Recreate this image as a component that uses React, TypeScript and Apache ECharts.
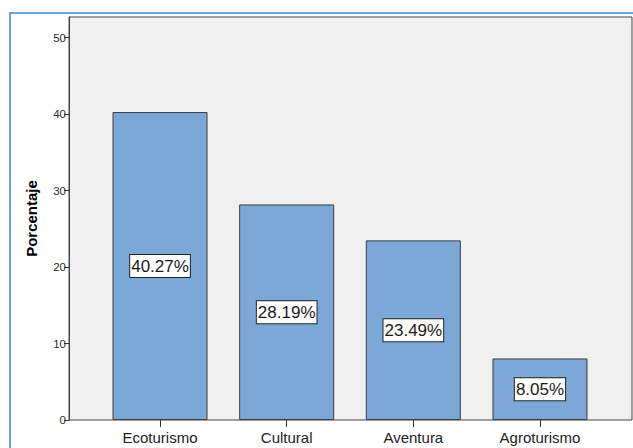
import React, { useEffect, useRef } from "react";
import * as echarts from "echarts";

const categories = ["Ecoturismo", "Cultural", "Aventura", "Agroturismo"];
const percentages = [40.27, 28.19, 23.49, 8.05];
const yTicks = [0, 10, 20, 30, 40, 50];
const yAxisTitle = "Porcentaje";

export default function App() {
  const ref = useRef<HTMLDivElement>(null);
  useEffect(() => {
    if (!ref.current) return;
    const chart = echarts.init(ref.current, null, { renderer: "svg" });
    const yMax = 52.7;
    chart.setOption({
      animation: false,
      backgroundColor: "#ffffff",
      graphic: [
        {
          type: "rect",
          shape: { x: 10, y: 13, width: 640, height: 460 },
          style: { fill: "none", stroke: "#6aa6df", lineWidth: 2 },
          silent: true,
          z: -1,
        },
      ],
      grid: [
        {
          left: 69,
          right: 1,
          top: 17,
          bottom: 28,
          show: true,
          backgroundColor: "#f0f0f0",
          borderColor: "#444444",
          borderWidth: 1,
        },
        {
          left: 96.7,
          right: 29.7,
          top: 17,
          bottom: 28,
        },
      ],
      xAxis: [
        { type: "value", gridIndex: 0, show: false, min: 0, max: 1 },
        {
          type: "category",
          gridIndex: 1,
          data: categories,
          axisLine: { show: false },
          axisTick: {
            show: true,
            alignWithLabel: true,
            length: 7,
            lineStyle: { color: "#333333", width: 1 },
          },
          axisLabel: {
            fontFamily: "Liberation Sans, Arial, sans-serif",
            fontSize: 15,
            color: "#222222",
            margin: 10,
          },
        },
      ],
      yAxis: [
        {
          type: "value",
          gridIndex: 0,
          min: 0,
          max: yMax,
          interval: 10,
          name: yAxisTitle,
          nameLocation: "middle",
          nameGap: 30,
          nameTextStyle: {
            fontFamily: "Liberation Sans, Arial, sans-serif",
            fontSize: 15,
            fontWeight: "bold",
            color: "#000000",
          },
          axisLine: { show: true, lineStyle: { color: "#444444" } },
          axisTick: {
            show: true,
            length: 5,
            customValues: yTicks,
            lineStyle: { color: "#333333" },
          },
          axisLabel: {
            customValues: yTicks,
            fontFamily: "Liberation Sans, Arial, sans-serif",
            fontSize: 11.5,
            color: "#2a2a2a",
            margin: 3,
          },
          splitLine: { show: false },
        },
        {
          type: "value",
          gridIndex: 1,
          min: 0,
          max: yMax,
          show: false,
          splitLine: { show: false },
        },
      ],
      series: [
        {
          type: "bar",
          xAxisIndex: 1,
          yAxisIndex: 1,
          data: percentages,
          barWidth: 95,
          itemStyle: {
            color: "#7ba8d6",
            borderColor: "#3d3d3d",
            borderWidth: 1,
          },
          label: {
            show: true,
            position: "inside",
            formatter: (p: any) => p.value.toFixed(2) + "%",
            fontFamily: "Liberation Sans, Arial, sans-serif",
            fontSize: 17,
            color: "#1a1a1a",
            backgroundColor: "#ffffff",
            borderColor: "#222222",
            borderWidth: 1,
            padding: [3, 1, 2, 1],
          },
        },
      ],
    });
    return () => chart.dispose();
  }, []);
  return (
    <div
      ref={ref}
      style={{ position: "fixed", left: 0, top: 0, width: 633, height: 448 }}
    />
  );
}
